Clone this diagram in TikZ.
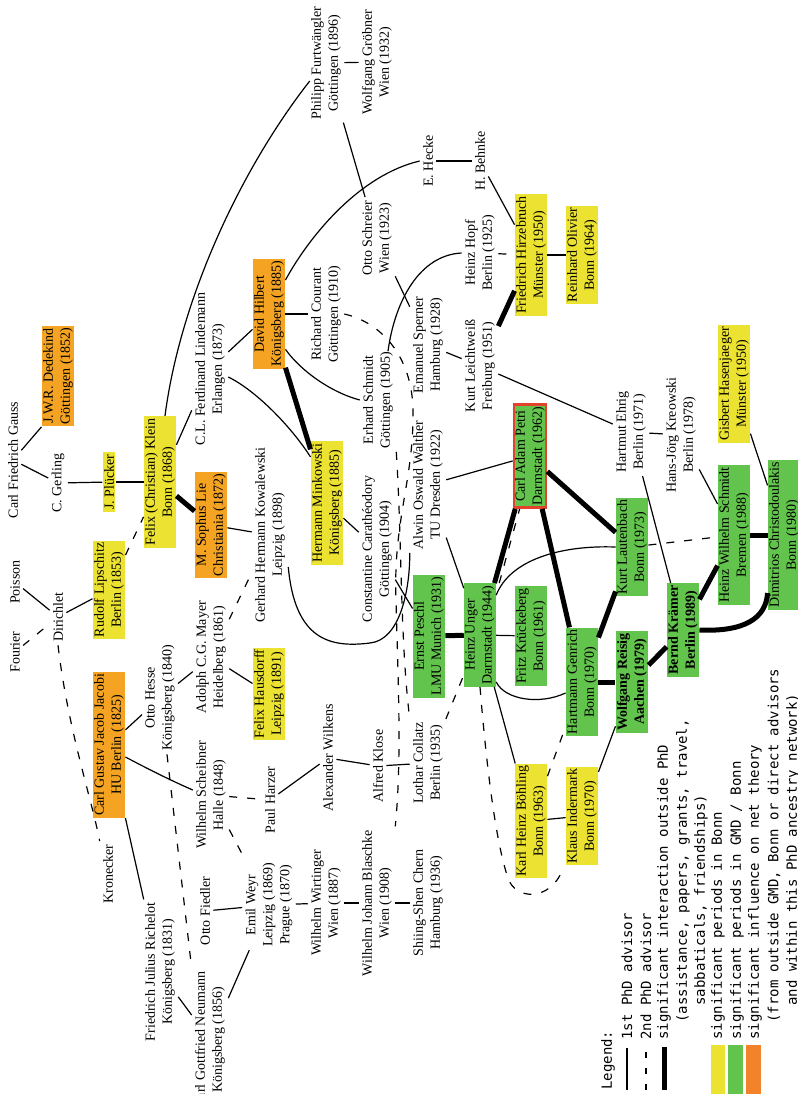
\documentclass[tikz,border=0pt]{standalone}
\usepackage{fontspec}
\setmainfont{Liberation Serif}
\newfontfamily\legendfont{DejaVu Sans Mono}
\usepackage{tikz}
\usetikzlibrary{positioning,calc}
\definecolor{bonnyellow}{HTML}{ECE232}
\definecolor{gmdgreen}{HTML}{62C44C}
\definecolor{netorange}{HTML}{F4A323}
\definecolor{legendorange}{HTML}{F2832A}
\definecolor{petrired}{HTML}{E3432C}
\tikzset{%
  person/.style={
    rotate=90,
    align=center,
    inner sep=1.5pt,
    font=\fontsize{7}{8.5}\selectfont
  },
  box person/.style={person, inner xsep=1pt, inner ysep=0.6pt},
  bonn person/.style={box person, fill=bonnyellow},
  gmd person/.style={box person, fill=gmdgreen},
  net person/.style={box person, fill=netorange},
  petri box/.style={gmd person, draw=petrired, line width=1.3pt},
  strong/.style={font=\fontsize{7}{8.5}\selectfont\bfseries},
  first advisor/.style={line width=0.6pt},
  second advisor/.style={line width=0.6pt, dash pattern=on 4pt off 5pt},
  interaction/.style={line width=2.5pt},
  legend text/.style={
    rotate=90,
    anchor=west,
    inner sep=0pt,
    font=\legendfont\fontsize{7}{8.5}\selectfont
  },
}

\begin{document}
\begin{tikzpicture}[x=0.5pt, y=-0.5pt]
\useasboundingbox (0,0) rectangle (798,1094);
\clip (0,0) rectangle (798,1094);

\node[person] (gauss) at (13,460) {Carl Friedrich Gauss};
\node[net person] (dedekind) at (58,376) {J.W.R. Dedekind\\Göttingen (1852)};
\node[person] (gerling) at (58,483) {C. Gerling};
\node[bonn person] (pluecker) at (109,482) {J. Plücker};
\node[bonn person] (klein) at (160,482) {Felix (Christian) Klein\\Bonn (1868)};
\node[person] (poisson) at (15,582) {Poisson};
\node[person] (fourier) at (15,652) {Fourier};
\node[person] (dirichlet) at (58,617) {Dirichlet};
\node[bonn person] (lipschitz) at (109,590) {Rudolf Lipschitz\\Berlin (1853)};
\node[net person] (lie) at (211,525) {M. Sophus Lie\\Christiania (1872)};
\node[person] (lindemann) at (210,369) {C.L. Ferdinand Lindemann\\Erlangen (1873)};
\node[net person] (hilbert) at (269,314) {David Hilbert\\Königsberg (1885)};
\node[bonn person] (minkowski) at (327,503) {Hermann Minkowski\\Königsberg (1885)};
\node[person] (kowalewski) at (270,535) {Gerhard Hermann Kowalewski\\Leipzig (1898)};
\node[person] (mayer) at (211,657) {Adolph C.G. Mayer\\Heidelberg (1861)};
\node[bonn person] (hausdorff) at (269,694) {Felix Hausdorff\\Leipzig (1891)};
\node[person] (hesse) at (160,698) {Otto Hesse\\Königsberg (1840)};
\node[net person] (jacobi) at (109,745) {Carl Gustav Jacob Jacobi\\HU Berlin (1825)};
\node[person] (kronecker) at (108,874) {Kronecker};
\node[person] (richelot) at (160,972) {Friedrich Julius Richelot\\Königsberg (1831)};
\node[person] (neumann) at (210,1040) {Carl Gottfried Neumann\\Königsberg (1856)};
\node[person] (scheibner) at (211,795) {Wilhelm Scheibner\\Halle (1848)};
\node[person] (fiedler) at (205,911) {Otto Fiedler};
\node[person] (weyr) at (269,905) {Emil Weyr\\Leipzig (1869)\\Prague (1870)};
\node[person] (harzer) at (270,800) {Paul Harzer};
\node[person] (wilkens) at (328,758) {Alexander Wilkens};
\node[person] (klose) at (378,766) {Alfred Klose};
\node[person] (collatz) at (428,763) {Lothar Collatz\\Berlin (1935)};
\node[person] (wirtinger) at (326,903) {Wilhelm Wirtinger\\Wien (1887)};
\node[person] (blaschke) at (377,903) {Wilhelm Johann Blaschke\\Wien (1908)};
\node[person] (chern) at (428,903) {Shiing-Shen Chern\\Hamburg (1936)};
\node[person] (furtwaengler) at (326,63) {Philipp Furtwängler\\Göttingen (1896)};
\node[person] (groebner) at (377,62) {Wolfgang Gröbner\\Wien (1932)};
\node[person] (courant) at (326,314) {Richard Courant\\Göttingen (1910)};
\node[person] (schreier) at (377,238) {Otto Schreier\\Wien (1923)};
\node[person] (eschmidt) at (378,400) {Erhard Schmidt\\Göttingen (1905)};
\node[person] (caratheodory) at (377,549) {Constantine Carathéodory\\Göttingen (1904)};
\node[person] (hecke) at (428,161) {E. Hecke};
\node[person] (sperner) at (428,345) {Emanuel Sperner\\Hamburg (1928)};
\node[person] (walther) at (428,485) {Alwin Oswald Walther\\TU Dresden (1922)};
\node[gmd person] (peschl) at (429,636) {Ernst Peschl\\LMU Munich (1931)};
\node[person] (behnke) at (480,161) {H. Behnke};
\node[person] (hopf) at (480,253) {Heinz Hopf\\Berlin (1925)};
\node[person] (leichtweiss) at (480,366) {Kurt Leichtweiß\\Freiburg (1951)};
\node[gmd person] (unger) at (480,635) {Heinz Unger\\Darmstadt (1944)};
\node[bonn person] (hirzebruch) at (531,255) {Friedrich Hirzebruch\\Münster (1950)};
\node[petri box] (petri) at (530,456) {Carl Adam Petri\\Darmstadt (1962)};
\node[gmd person] (krueckeberg) at (531,636) {Fritz Krückeberg\\Bonn (1961)};
\node[bonn person] (boehling) at (531,821) {Karl Heinz Böhling\\Bonn (1963)};
\node[bonn person] (olivier) at (582,255) {Reinhard Olivier\\Bonn (1964)};
\node[gmd person] (genrich) at (582,682) {Hartmann Genrich\\Bonn (1970)};
\node[bonn person] (indermark) at (582,816) {Klaus Indermark\\Bonn (1970)};
\node[person] (ehrig) at (631,432) {Hartmut Ehrig\\Berlin (1971)};
\node[gmd person] (lautenbach) at (632,547) {Kurt Lautenbach\\Bonn (1973)};
\node[gmd person, strong] (reisig) at (632,682) {Wolfgang Reisig\\Aachen (1979)};
\node[person] (kreowski) at (681,435) {Hans-Jörg Kreowski\\Berlin (1978)};
\node[gmd person, strong] (kraemer) at (683,630) {Bernd Krämer\\Berlin (1989)};
\node[bonn person] (hasenjaeger) at (734,384) {Gisbert Hasenjaeger\\Münster (1950)};
\node[gmd person] (hwschmidt) at (734,535) {Heinz Wilhelm Schmidt\\Bremen (1988)};
\node[gmd person] (christodoulakis) at (784,535) {Dimitrios Christodoulakis\\Bonn (1980)};

\draw[first advisor] (gauss) -- (dedekind.north west);
\draw[first advisor] (gauss) -- (gerling);
\draw[first advisor] (gerling) -- (pluecker);
\draw[first advisor] (pluecker) -- (klein);
\draw[first advisor] (poisson) -- (dirichlet);
\draw[second advisor] (fourier) -- (dirichlet);
\draw[first advisor] (dirichlet) -- (lipschitz);
\draw[second advisor] (lipschitz) -- (klein);
\draw[second advisor] (dirichlet.west) .. controls (68,730) and (92,800) .. (kronecker.north east);
\draw[interaction] (klein) -- (lie);
\draw[first advisor] (klein) -- (lindemann);
\draw[first advisor] ($(klein.east)+(5,0)$) .. controls (180,300) and (240,170) .. ($(furtwaengler.north)+(2,18)$);
\draw[first advisor] (lindemann) -- (hilbert);
\draw[first advisor] ($(lindemann.south)+(0,8)$) .. controls (255,390) and (290,425) .. ($(minkowski.north east)+(0,16)$);
\draw[interaction] (hilbert) -- (minkowski);
\draw[first advisor] (hilbert) -- (courant);
\draw[first advisor] ($(hilbert.south)+(0,-34)$) .. controls (310,235) and (360,175) .. (hecke.north);
\draw[first advisor] ($(hilbert.south west)+(0,-20)$) .. controls (300,370) and (330,392) .. (eschmidt.north);
\draw[first advisor] (lie) -- (kowalewski);
\draw[second advisor] (mayer) -- (kowalewski);
\draw[first advisor] (mayer) -- (hausdorff);
\draw[first advisor] (hesse) -- (mayer);
\draw[first advisor] (jacobi) -- (hesse);
\draw[first advisor] (jacobi) -- (richelot);
\draw[first advisor] ($(jacobi.south)+(0,12)$) .. controls (150,770) and (170,780) .. ($(scheibner.north)+(0,-5)$);
\draw[first advisor] (richelot) -- (neumann);
\draw[second advisor] ($(hesse.west)+(7,0)$) -- (neumann.north east);
\draw[first advisor] (neumann) -- (weyr);
\draw[first advisor] (fiedler) -- (weyr);
\draw[second advisor] (scheibner) -- (weyr);
\draw[second advisor] (scheibner) -- (harzer);
\draw[first advisor] (harzer) -- (wilkens);
\draw[first advisor] (wilkens) -- (klose);
\draw[first advisor] (klose) -- (collatz);
\draw[first advisor] (weyr) -- (wirtinger);
\draw[first advisor] (wirtinger) -- (blaschke);
\draw[first advisor] (blaschke) -- (chern);
\draw[first advisor] (furtwaengler) -- (groebner);
\draw[first advisor] (furtwaengler) -- (schreier);
\draw[first advisor] (schreier) -- (sperner);
\draw[first advisor] (hecke) -- (behnke);
\draw[first advisor] (behnke) -- (hirzebruch);
\draw[first advisor] (hirzebruch) -- (olivier);
\draw[second advisor] (hopf) -- (hirzebruch);
\draw[first advisor] ($(eschmidt.east)+(10,3)$) .. controls (395,300) and (420,255) .. (hopf.north);
\draw[first advisor] (sperner) -- (leichtweiss);
\draw[interaction] (leichtweiss) -- (hirzebruch);
\draw[first advisor] (leichtweiss) -- (ehrig);
\draw[first advisor] (ehrig) -- (kreowski);
\draw[first advisor] (ehrig) -- (kraemer);
\draw[first advisor] (kreowski) -- (hwschmidt);
\draw[first advisor] (hasenjaeger) -- (christodoulakis);
\draw[interaction] (hwschmidt) -- (christodoulakis);
\draw[interaction] (kraemer) -- (hwschmidt);
\draw[interaction] (kraemer.south) .. controls (745,632) and (766,618) .. ($(christodoulakis.north)+(0,58)$);
\draw[interaction] (reisig) -- (kraemer);
\draw[interaction] (genrich) -- (reisig);
\draw[interaction] (genrich) -- (lautenbach);
\draw[interaction] (petri) -- (lautenbach);
\draw[interaction] (petri) -- (genrich);
\draw[interaction] (unger) -- (petri);
\draw[second advisor] ($(unger.south east)+(3,0)$) -- ($(petri.north west)+(7,0)$);
\draw[first advisor] (walther) -- (petri);
\draw[first advisor] (walther) -- (unger);
\draw[interaction] (peschl) -- (unger);
\draw[first advisor] (caratheodory) -- (peschl);
\draw[first advisor] (minkowski) -- (caratheodory);
\draw[first advisor] ($(kowalewski.south)+(0,32)$) .. controls (295,640) and (330,648) .. (370,643) .. controls (400,640) and (410,590) .. (walther.north west);
\draw[first advisor] (unger) -- (krueckeberg);
\draw[first advisor] (unger) -- (boehling);
\draw[first advisor] (boehling) -- (indermark);
\draw[first advisor] (indermark) -- (reisig);
\draw[second advisor] (boehling) -- (genrich);
\draw[second advisor] (collatz) -- (unger);
\draw[first advisor] ($(unger.south east)+(0,12)$) .. controls (510,560) and (560,545) .. (lautenbach.north);
\draw[second advisor] (lautenbach) -- (hwschmidt);
\draw[first advisor] ($(unger.south west)+(0,-5)$) .. controls (505,700) and (540,705) .. ($(genrich.north)+(0,11)$);
\draw[second advisor] (unger.west) .. controls (486,760) and (495,840) .. (508,878) .. controls (515,900) and (550,902) .. ($(indermark.north west)+(-3,4)$);
\draw[second advisor] (courant.south) .. controls (380,322) and (412,355) .. (413,410) .. controls (414,480) and (393,520) .. (396,600) .. controls (398,680) and (402,760) .. (blaschke.south east);
\draw[second advisor] (eschmidt.south west) .. controls (402,540) and (400,640) .. (collatz.north east);

\node[legend text] (legend) at (608,1090) {Legend:};
\node[legend text] (first) at (627,1040) {1st PhD advisor};
\node[legend text] (second) at (646,1040) {2nd PhD advisor};
\node[legend text] (thick) at (664,1040) {significant interaction outside PhD};
\node[legend text] (thick2) at (683,1023) {(assistance, papers, grants, travel,};
\node[legend text] (thick3) at (701,1006) {sabbaticals, friendships)};
\node[legend text] (yellow) at (718,1040) {significant periods in Bonn};
\node[legend text] (green) at (737,1040) {significant periods in GMD / Bonn};
\node[legend text] (orange) at (755,1040) {significant influence on net theory};
\node[legend text] (orange2) at (774,1023) {(from outside GMD, Bonn or direct advisors};
\node[legend text] (orange3) at (793,1006) {and within this PhD ancestry network)};
\draw[first advisor] (627,1048) -- (627,1090);
\draw[line width=0.6pt, dash pattern=on 3pt off 5pt] (646,1090) -- (646,1046);
\draw[interaction] (664,1047) -- (664,1090);
\fill[bonnyellow] (711,1045) rectangle (725,1094);
\fill[gmdgreen] (728,1045) rectangle (743,1094);
\fill[legendorange] (746,1045) rectangle (761,1094);
\end{tikzpicture}
\end{document}
